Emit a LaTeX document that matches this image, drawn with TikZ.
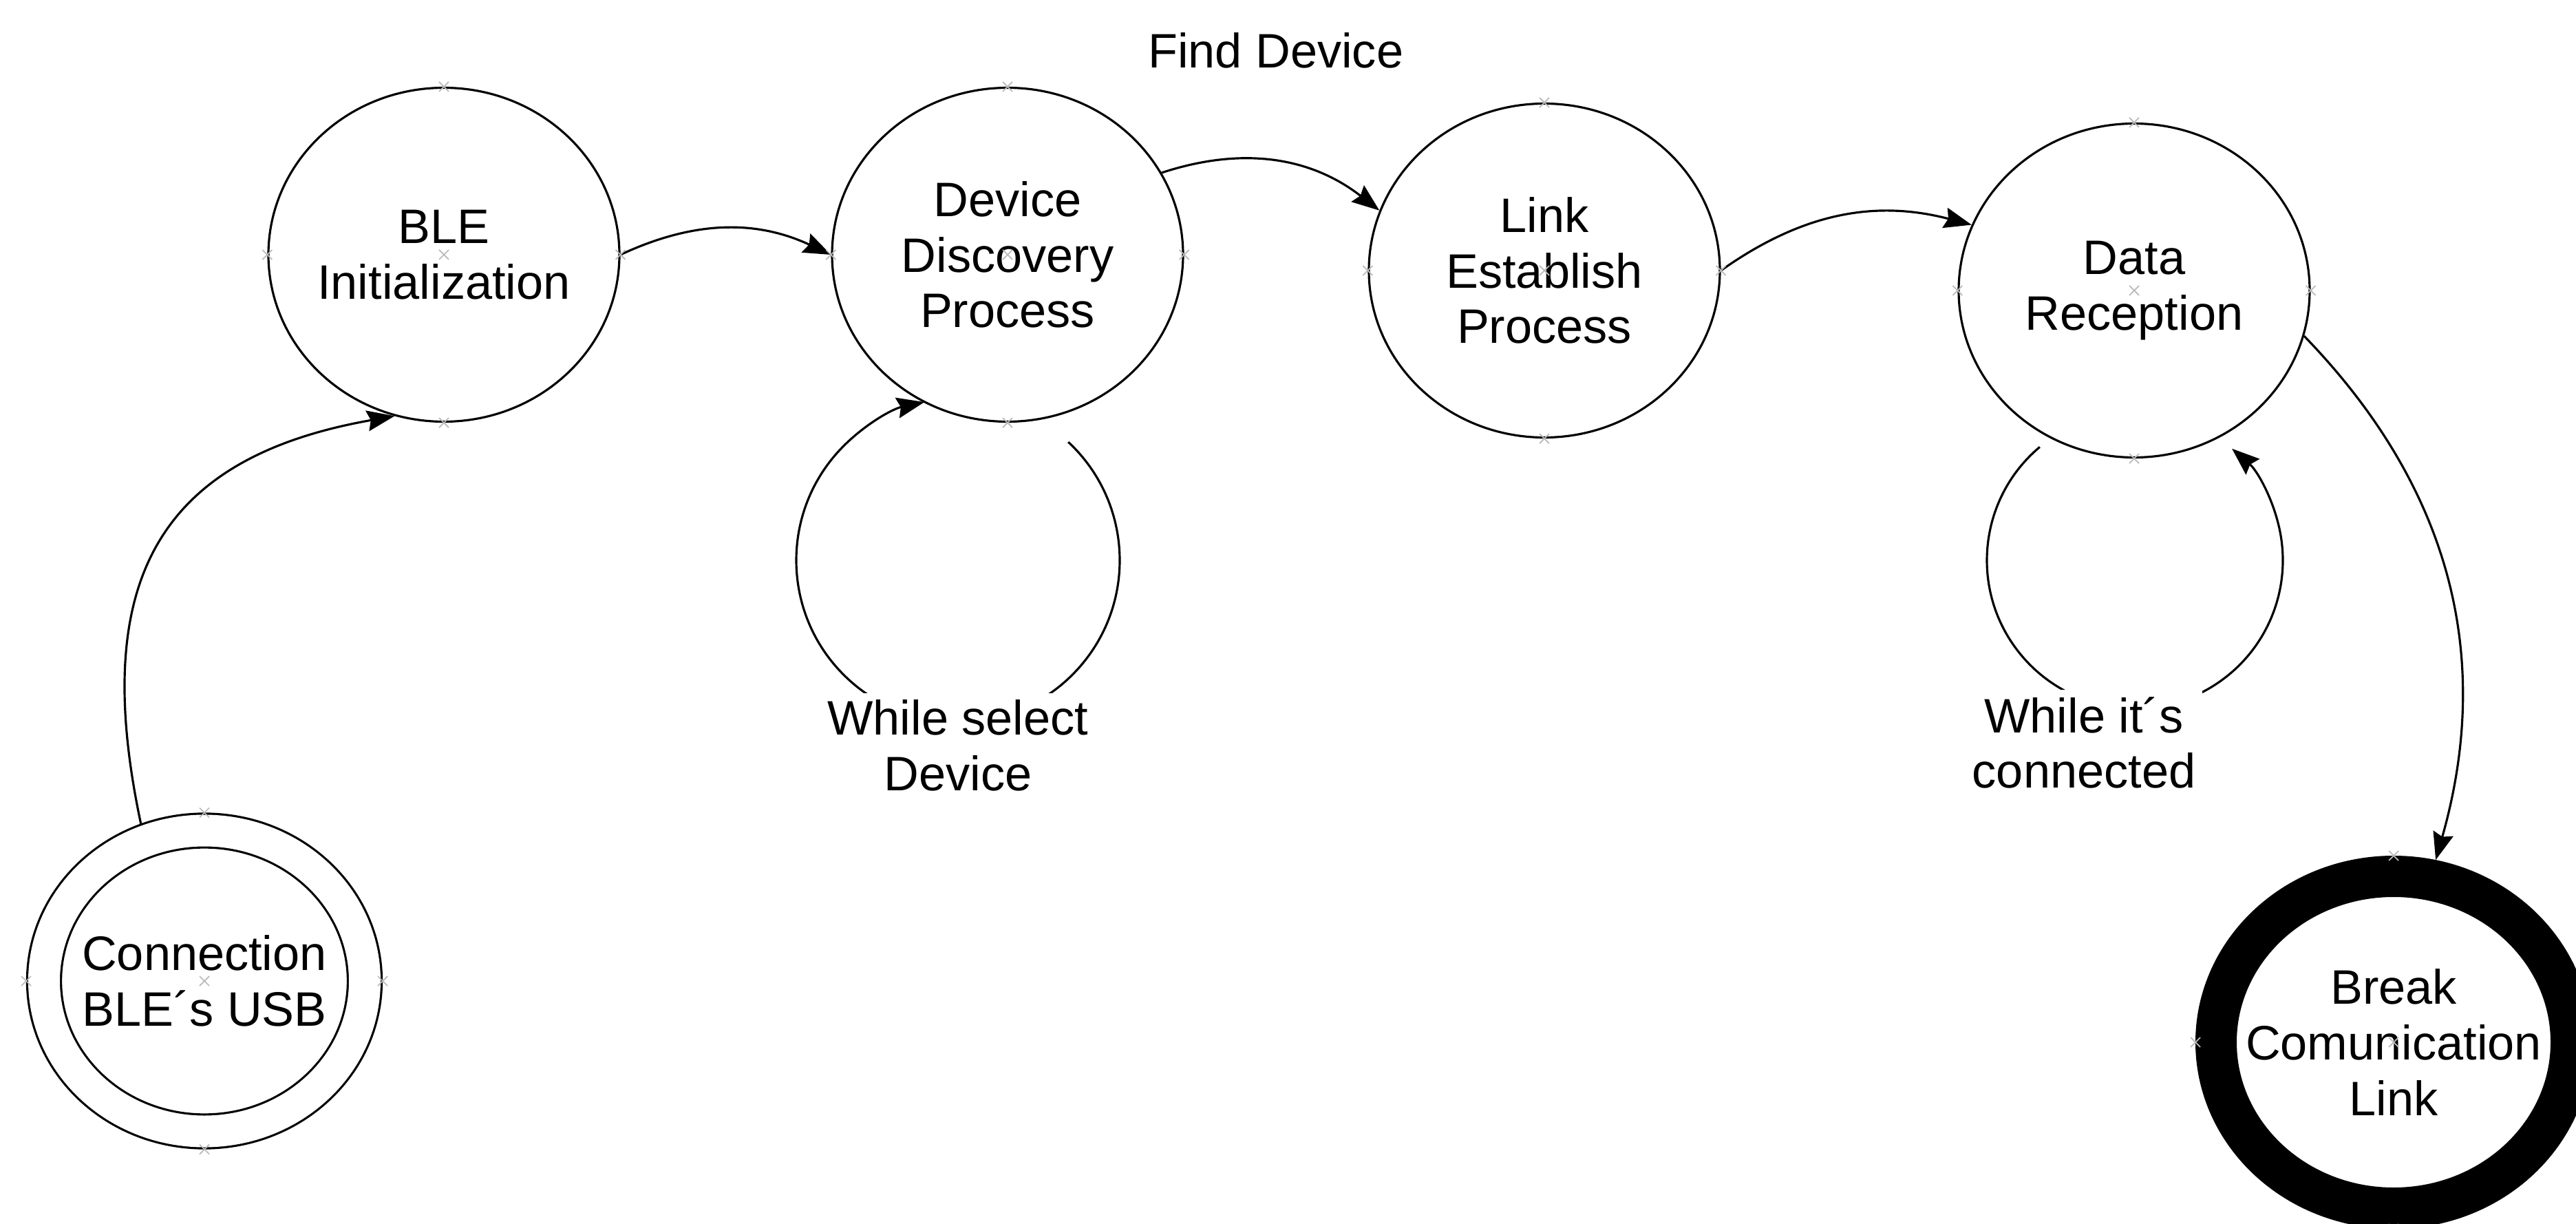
\documentclass[tikz,border=0pt]{standalone}
\usepackage{fontspec}
\setmainfont{Liberation Sans}
\usetikzlibrary{arrows.meta,shapes.geometric}

\tikzset{
  stage/.style={ellipse,draw,line width=0.9pt,minimum width=5.1cm,minimum height=4.85cm,inner sep=-6mm,align=center},
  entrystate/.style={stage,double,double distance=4.6mm,minimum width=4.66cm,minimum height=4.37cm,outer sep=2.6mm},
  endstate/.style={stage,line width=6mm,outer sep=3mm,minimum width=5.16cm,minimum height=4.82cm},
  note/.style={fill=white,align=center,inner sep=1mm},
  cpt/.style={gray!55,line width=0.5pt}
}

\begin{document}
\begin{tikzpicture}[>={Stealth[length=4mm,width=3mm,inset=0.5mm]},line width=0.9pt,
    font=\fontsize{20}{23}\selectfont]
  \useasboundingbox (0,0) rectangle (37.43,17.77);
  \clip (0,0) rectangle (37.43,17.77);

  \node[stage]      (ble)  at (6.45,14.07) {BLE\\Initialization};
  \node[stage]      (disc) [node distance=8.19cm,right of=ble] {Device\\Discovery\\Process};
  \node[stage]      (link) [node distance=7.8cm,right of=disc,yshift=-2.3mm] {Link\\Establish\\Process};
  \node[stage]      (recv) [node distance=8.57cm,right of=link,yshift=-2.9mm] {Data\\Reception};
  \node[entrystate] (usb)  at (2.97,3.52) {Connection\\BLE´s USB};
  \node[endstate]   (brk)  at (34.78,2.63) {Break\\Comunication\\Link};

  \path[->] (usb.112)  edge [out=102,in=190,looseness=1.3] (ble.-107)
            (ble.east) edge [bend left=25] (disc.west)
            (disc.28)  edge [bend left=28] node[above=1.22cm] {Find Device} (link.160)
            (link.east) edge [bend left=25] (recv.158)
            (recv.-15) edge [bend left=30] (brk.77);

  % self loops, labels drawn over them
  \coordinate (selc) at ([shift={(-0.72,-4.44)}]disc.center);
  \coordinate (conc) at ([shift={(0.01,-3.92)}]recv.center);
  \draw[->] ([shift={(47:2.35)}]selc) arc[start angle=47,end angle=-258,radius=2.35];
  \draw[->] ([shift={(130:2.15)}]conc) arc[start angle=130,end angle=409,radius=2.15];
  \node[note] (sel) at ([yshift=-2.69cm]selc) {While select\\Device};
  \node[note] (con) at ([shift={(-0.74,-2.65)}]conc) {While it´s\\connected};

  \foreach \n in {ble,disc,link,recv,usb,brk}
    \foreach \a in {north,south,east,west,center}
      \draw[cpt] (\n.\a) +(-0.7mm,-0.7mm) -- +(0.7mm,0.7mm) +(-0.7mm,0.7mm) -- +(0.7mm,-0.7mm);
\end{tikzpicture}
\end{document}
